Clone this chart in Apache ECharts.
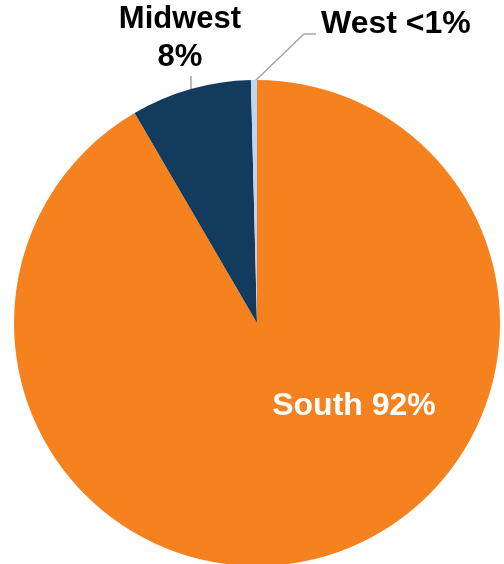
<!DOCTYPE html>
<html>
<head>
<meta charset="utf-8">
<script src="https://cdn.jsdelivr.net/npm/echarts@6/dist/echarts.min.js"></script>
<style>html,body{margin:0;padding:0;background:#fff;}#c{width:504px;height:564px;}</style>
</head>
<body>
<div id="c"></div>
<script>
var categories = ['South', 'Midwest', 'West'];
var values = [91.6, 8.0, 0.4];
var labelTexts = ['South 92%', 'Midwest\n8%', 'West <1%'];
var colors = ['#F5821F', '#133B5E', '#BDD7EE'];

var chart = echarts.init(document.getElementById('c'));
var data = categories.map(function (c, i) {
  return {
    name: c,
    value: values[i],
    itemStyle: { color: colors[i] },
    label: {
      formatter: labelTexts[i],
      color: i === 0 ? '#FFFFFF' : '#000000',
      position: i === 0 ? 'inside' : 'outside',
      fontSize: i === 1 ? 31 : 32
    },
    labelLine: { show: i !== 0 }
  };
});

chart.setOption({
  animation: false,
  series: [{
    type: 'pie',
    center: [257, 323],
    radius: [0, 243],
    startAngle: 90,
    clockwise: true,
    data: data,
    label: {
      fontFamily: 'Liberation Sans, Arial, sans-serif',
      fontWeight: 'bold',
      fontSize: 31,
      lineHeight: 38,
      overflow: 'none'
    },
    labelLine: {
      lineStyle: { color: '#A6A6A6', width: 1.5 }
    },
    labelLayout: function (p) {
      if (p.dataIndex === 0) {
        return { x: 354, y: 406, align: 'center', verticalAlign: 'middle' };
      }
      if (p.dataIndex === 1) {
        return {
          x: 180, y: 38, align: 'center', verticalAlign: 'middle',
          labelLinePoints: [[191, 90], [191, 76], [191, 76]]
        };
      }
      return {
        x: 321, y: 24, align: 'left', verticalAlign: 'middle',
        labelLinePoints: [[254, 82], [304, 34], [316, 34]]
      };
    }
  }]
});
</script>
</body>
</html>
